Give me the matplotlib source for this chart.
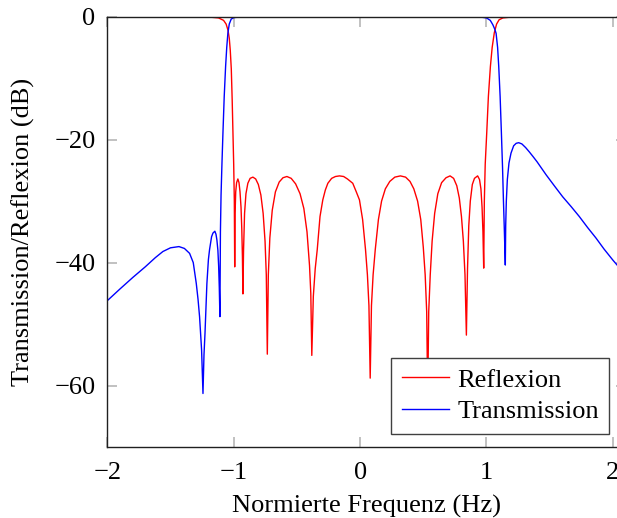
import matplotlib
matplotlib.use("Agg")
import matplotlib.pyplot as plt

plt.rcParams['font.family'] = ['Liberation Serif', 'DejaVu Serif']
plt.rcParams['mathtext.fontset'] = 'stix'

# Reflexion (rot)
refl_x = [-2.0, -1.5, -1.2, -1.12, -1.08, -1.06, -1.045, -1.035, -1.027, -1.019,
          -1.012, -1.006, -1.0, -0.995, -0.992, -0.989, -0.984, -0.977, -0.967, -0.958,
          -0.95, -0.942, -0.936, -0.931, -0.927, -0.922, -0.914, -0.903, -0.888, -0.87,
          -0.848, -0.826, -0.805, -0.785, -0.767, -0.752, -0.742, -0.734, -0.726, -0.714,
          -0.695, -0.67, -0.64, -0.61, -0.579, -0.545, -0.51, -0.475, -0.445, -0.42,
          -0.4, -0.39, -0.382, -0.37, -0.355, -0.339, -0.317, -0.295, -0.275, -0.255,
          -0.225, -0.195, -0.163, -0.13, -0.1, -0.058, -0.03, -0.005, 0.02, 0.043,
          0.058, 0.07, 0.08, 0.09, 0.103, 0.12, 0.145, 0.17, 0.2, 0.235,
          0.275, 0.319, 0.36, 0.395, 0.425, 0.455, 0.48, 0.5, 0.515, 0.527,
          0.535, 0.543, 0.555, 0.57, 0.59, 0.615, 0.645, 0.68, 0.712, 0.74,
          0.765, 0.785, 0.802, 0.817, 0.83, 0.841, 0.85, 0.86, 0.872, 0.888,
          0.905, 0.93, 0.945, 0.956, 0.965, 0.972, 0.978, 0.983, 0.99, 1.002,
          1.015, 1.031, 1.045, 1.062, 1.08, 1.1, 1.13, 1.2, 1.5, 2.1]
refl_y = [0.0, 0.0, -0.05, -0.2, -0.6, -1.2, -2.2, -3.5, -5.5, -8.5,
          -13.5, -19.0, -24.0, -30.0, -40.7, -32.0, -28.5, -27.0, -26.4, -27.0,
          -28.5, -31.0, -34.5, -39.0, -45.1, -38.0, -32.0, -28.8, -27.1, -26.3,
          -26.1, -26.4, -27.3, -29.0, -32.0, -36.5, -42.0, -54.9, -42.0, -36.0,
          -31.5, -28.5, -26.9, -26.2, -26.0, -26.3, -27.2, -28.8, -31.2, -35.0,
          -40.5, -45.0, -55.1, -45.5, -41.0, -37.9, -32.5, -29.8, -28.2, -27.1,
          -26.3, -26.0, -25.9, -26.0, -26.4, -27.1, -28.5, -29.8, -33.0, -37.9,
          -42.0, -47.0, -58.8, -47.0, -42.0, -37.9, -33.0, -30.0, -28.0, -26.8,
          -26.1, -25.9, -26.1, -26.8, -28.0, -30.0, -33.0, -37.5, -42.0, -48.0,
          -62.0, -48.0, -42.0, -36.5, -32.0, -28.8, -27.0, -26.2, -25.9, -26.3,
          -27.5, -29.5, -32.5, -36.5, -42.0, -51.8, -41.0, -34.0, -30.0, -27.3,
          -26.3, -25.9, -26.5, -28.0, -31.0, -35.0, -40.9, -30.0, -24.0, -18.9,
          -13.0, -8.1, -5.0, -2.6, -1.2, -0.5, -0.2, -0.05, 0.0, 0.0]

# Transmission (blau)
trans_x = [-2.0, -1.9, -1.797, -1.7, -1.62, -1.56, -1.5, -1.433, -1.39, -1.349,
           -1.32, -1.296, -1.282, -1.27, -1.254, -1.243, -1.235, -1.227, -1.212, -1.2,
           -1.191, -1.175, -1.164, -1.149, -1.14, -1.133, -1.125, -1.119, -1.114, -1.109,
           -1.105, -1.1, -1.093, -1.085, -1.075, -1.064, -1.055, -1.046, -1.035, -1.02,
           -1.0, -0.95, -0.5, 0.5, 0.95, 1.0, 1.03, 1.05, 1.065, 1.076,
           1.088, 1.097, 1.108, 1.118, 1.127, 1.134, 1.141, 1.149, 1.152, 1.157,
           1.165, 1.178, 1.194, 1.215, 1.235, 1.255, 1.28, 1.31, 1.339, 1.37,
           1.4, 1.471, 1.54, 1.603, 1.67, 1.734, 1.8, 1.866, 1.93, 2.0, 2.1]
trans_y = [-46.2, -44.3, -42.4, -40.7, -39.2, -38.2, -37.6, -37.4, -37.7, -38.5,
           -40.0, -43.4, -46.0, -48.8, -54.2, -61.3, -55.0, -51.5, -43.4, -39.5,
           -37.9, -35.8, -35.2, -34.9, -35.4, -36.3, -38.0, -40.6, -44.0, -48.8,
           -35.0, -29.0, -24.0, -18.9, -13.0, -8.1, -5.0, -2.7, -1.2, -0.4,
           -0.15, -0.05, 0.0, 0.0, -0.05, -0.2, -0.6, -1.3, -2.0, -2.7,
           -5.0, -8.1, -13.0, -18.9, -24.5, -29.8, -34.5, -40.4, -34.0, -30.0,
           -26.5, -23.8, -22.2, -21.0, -20.6, -20.5, -20.7, -21.3, -22.0, -22.8,
           -23.6, -25.7, -27.6, -29.3, -30.9, -32.5, -34.3, -36.0, -37.8, -39.6, -42.0]

xticks = [-2, -1, 0, 1, 2]
yticks = [-60, -40, -20, 0]

fig = plt.figure(figsize=(6.17, 5.18), dpi=100)
ax = fig.add_axes([0.1739, 0.1371, 0.8399, 0.8307])

ax.plot(refl_x, refl_y, color='#ff0000', lw=1.0, label='Reflexion')
ax.plot(trans_x, trans_y, color='#0000ff', lw=1.0, label='Transmission')

ax.set_xlim(-2, 2.1)
ax.set_ylim(-70, 0)
ax.set_xticks(xticks)
ax.set_yticks(yticks)
ax.tick_params(direction='in', length=7, width=1.1, color='#b0b0b0',
               top=True, right=True, labelsize=19)
ax.tick_params(axis='y', pad=8.5)
ax.tick_params(axis='x', pad=11)
for s in ax.spines.values():
    s.set_linewidth(1.0)
    s.set_color('#202020')

ax.set_xlabel('Normierte Frequenz (Hz)', fontsize=19, labelpad=7.5)
ax.set_ylabel('Transmission/Reflexion (dB)', fontsize=19, labelpad=13.5)

leg = ax.legend(loc='lower right', bbox_to_anchor=(0.969, 0.031), borderaxespad=0,
                fontsize=19, handlelength=1.8, handletextpad=0.3, labelspacing=0.3,
                borderpad=0.4, fancybox=False, framealpha=1, edgecolor='#404040')
leg.get_frame().set_linewidth(1.0)

fig.savefig('out.png', dpi=100)
